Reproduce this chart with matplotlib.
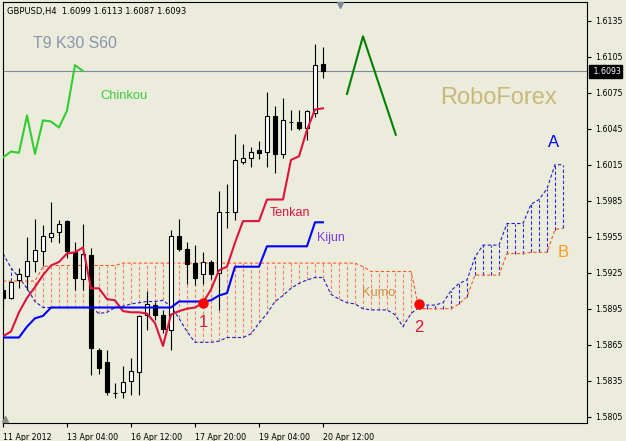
import matplotlib
matplotlib.use('Agg')
import matplotlib.pyplot as plt
import numpy as np

# ---------------- data ----------------
date_labels = ["11 Apr 2012", "13 Apr 04:00", "16 Apr 12:00", "17 Apr 20:00", "19 Apr 04:00", "20 Apr 12:00"]
date_bars = [0, 8, 16, 24, 32, 40]

opens = [1.5911, 1.5904, 1.5919, 1.5922, 1.5935, 1.5943, 1.5955, 1.5959, 1.5968, 1.5942,
         1.5920, 1.5940, 1.5861, 1.5851, 1.5825, 1.5826, 1.5835, 1.5842, 1.5890, 1.5898,
         1.5890, 1.5877, 1.5956, 1.5945, 1.5933, 1.5924, 1.5934, 1.5925, 1.5976, 1.5976,
         1.6017, 1.6021, 1.6027, 1.6026, 1.6056, 1.6024, 1.6051, 1.6051, 1.6046, 1.6058,
         1.6099]
highs = [1.5915, 1.5918, 1.5929, 1.5955, 1.5970, 1.5965, 1.5984, 1.5969, 1.5969, 1.5951,
         1.5966, 1.5946, 1.5862, 1.5861, 1.5833, 1.5847, 1.5854, 1.5890, 1.5910, 1.5901,
         1.5894, 1.5961, 1.5970, 1.5951, 1.5948, 1.5942, 1.5936, 1.5993, 1.5999, 1.6041,
         1.6032, 1.6030, 1.6035, 1.6076, 1.6064, 1.6071, 1.6061, 1.6061, 1.6061, 1.6116,
         1.6113]
lows = [1.5896, 1.5903, 1.5912, 1.5911, 1.5926, 1.5931, 1.5951, 1.5950, 1.5937, 1.5911,
        1.5911, 1.5840, 1.5841, 1.5823, 1.5821, 1.5821, 1.5823, 1.5823, 1.5877, 1.5886,
        1.5875, 1.5861, 1.5943, 1.5916, 1.5915, 1.5916, 1.5920, 1.5894, 1.5962, 1.5969,
        1.6016, 1.6013, 1.6020, 1.6013, 1.6008, 1.6021, 1.6044, 1.6044, 1.6036, 1.6055,
        1.6087]
closes = [1.5904, 1.5917, 1.5924, 1.5935, 1.5944, 1.5956, 1.5958, 1.5966, 1.5943, 1.5921,
          1.5941, 1.5862, 1.5846, 1.5826, 1.5825, 1.5834, 1.5843, 1.5889, 1.5899, 1.5890,
          1.5878, 1.5956, 1.5945, 1.5932, 1.5921, 1.5934, 1.5924, 1.5976, 1.5976, 1.6019,
          1.6021, 1.6026, 1.6025, 1.6056, 1.6024, 1.6052, 1.6051, 1.6046, 1.6060, 1.6098,
          1.6093]

tenkan = [1.5872, 1.5876, 1.5892, 1.5904, 1.5913, 1.5923, 1.5931, 1.5934, 1.5941, 1.5942,
          1.5946, 1.5912, 1.5912, 1.5903, 1.5902, 1.5893, 1.5892, 1.5892, 1.5891, 1.5883,
          1.5864, 1.5890, 1.5893, 1.5895, 1.5896, 1.5900, 1.5911, 1.5927, 1.5930, 1.5950,
          1.5968, 1.5968, 1.5968, 1.5986, 1.5986, 1.5986, 1.6019, 1.6022, 1.6044, 1.6061,
          1.6062]
kijun = [1.5871, 1.5871, 1.5871, 1.5880, 1.5887, 1.5889, 1.5896, 1.5896, 1.5896, 1.5896,
         1.5896, 1.5896, 1.5896, 1.5896, 1.5896, 1.5896, 1.5896, 1.5896, 1.5896, 1.5896,
         1.5896, 1.5896, 1.5901, 1.5901, 1.5901, 1.5901, 1.5902, 1.5906, 1.5908, 1.5930,
         1.5930, 1.5930, 1.5930, 1.5947, 1.5947, 1.5947, 1.5947, 1.5947, 1.5947, 1.5967,
         1.5967]
senkou_a = [1.5941, 1.5929, 1.5921, 1.5912, 1.5901, 1.5896, 1.5896, 1.5896, 1.5896, 1.5896,
            1.5896, 1.5896, 1.5891, 1.5892, 1.5896, 1.5897, 1.5899, 1.5900, 1.5901, 1.5901,
            1.5902, 1.5897, 1.5887, 1.5876, 1.5867, 1.5867, 1.5867, 1.5868, 1.5871, 1.5871,
            1.5871, 1.5874, 1.5883, 1.5891, 1.5901, 1.5906, 1.5912, 1.5916, 1.5919, 1.5921,
            1.5921, 1.5907, 1.5903, 1.5900, 1.5899, 1.5895, 1.5894, 1.5894, 1.5894, 1.5890,
            1.5880, 1.5891, 1.5896, 1.5898, 1.5898, 1.5900, 1.5910, 1.5916, 1.5919, 1.5938,
            1.5948, 1.5948, 1.5948, 1.5966, 1.5966, 1.5966, 1.5982, 1.5986, 1.5995, 1.6015,
            1.6015]
senkou_b = [1.5918, 1.5918, 1.5918, 1.5918, 1.5918, 1.5930, 1.5931, 1.5931, 1.5931, 1.5931,
            1.5931, 1.5931, 1.5931, 1.5931, 1.5931, 1.5933, 1.5933, 1.5933, 1.5933, 1.5933,
            1.5933, 1.5933, 1.5933, 1.5933, 1.5933, 1.5933, 1.5933, 1.5933, 1.5933, 1.5933,
            1.5933, 1.5933, 1.5933, 1.5933, 1.5933, 1.5933, 1.5933, 1.5933, 1.5933, 1.5933,
            1.5933, 1.5933, 1.5933, 1.5933, 1.5933, 1.5930, 1.5926, 1.5926, 1.5926, 1.5926,
            1.5926, 1.5926, 1.5895, 1.5895, 1.5895, 1.5895, 1.5895, 1.5899, 1.5905, 1.5923,
            1.5923, 1.5923, 1.5923, 1.5941, 1.5941, 1.5941, 1.5942, 1.5942, 1.5942, 1.5961,
            1.5962]
chinkou_shift = 30

price_ticks = [1.6135, 1.6105, 1.6075, 1.6045, 1.6015, 1.5985, 1.5955, 1.5925,
               1.5895, 1.5865, 1.5835, 1.5805]
last_price = 1.6093

signal_bars = [25, 52]
signal_prices = [1.5900, 1.5899]
signal_labels = ["1", "2"]
signal_label_offsets = [-14, -17]

forecast_bars = [43, 45, 49.1]
forecast_prices = [1.6074, 1.6122, 1.6040]

# ---------------- figure ----------------
W, H = 626, 441
BG = '#ECECDC'
fig = plt.figure(figsize=(W / 100, H / 100), dpi=100, facecolor=BG)
ax = fig.add_axes([2.5 / W, (H - 423.3) / H, (587 - 2.5) / W, (423.3 - 2) / H])
ax.set_facecolor(BG)
ax.set_xlim(-0.06, 73.0)
ax.set_ylim(1.57995, 1.61506)

tick_font = dict(family='DejaVu Sans', size=5.7)

# Kumo hatch
sa = np.array(senkou_a)
sb = np.array(senkou_b)
ki = np.arange(len(sa))
bull = sa >= sb
ax.vlines(ki[bull], sb[bull], sa[bull], colors='#2A2AD0', linestyles=[(0, (3, 2))], lw=0.8, zorder=1)
ax.vlines(ki[~bull], sa[~bull], sb[~bull], colors='#F7845E', linestyles=[(0, (3, 2))], lw=0.8, zorder=1)
ax.plot(ki, sa, color='#1C1CCC', lw=0.8, ls=(0, (3, 2)), zorder=2)
ax.plot(ki, sb, color='#FF5A1E', lw=0.8, ls=(0, (3, 2)), zorder=2)

# candles
idx = np.arange(len(opens))
o = np.array(opens)
c = np.array(closes)
up = c >= o
ax.vlines(idx, lows, highs, color='black', lw=0.8, zorder=3)
ax.bar(idx, np.abs(c - o), bottom=np.minimum(o, c), width=0.48,
       color=np.where(up, 'white', 'black'), edgecolor='black', linewidth=0.8, zorder=4)

# Tenkan / Kijun
ax.plot(idx, tenkan, color='#DC143C', lw=1.5, zorder=5)
ax.plot(idx, kijun, color='#0000FF', lw=1.5, zorder=5)

# Chinkou
ax.plot(idx - chinkou_shift, closes, color='#32CD32', lw=1.5, zorder=5)

# last price line
ax.axhline(last_price, color='#7A8C9E', lw=0.8, zorder=2)

# forecast zigzag
ax.plot(forecast_bars, forecast_prices, color='#008000', lw=1.5, zorder=5)

# signal dots
ax.plot(signal_bars, signal_prices, 'o', color='#FF0000', ms=6.5, zorder=6)

# axes styling
for s in ax.spines.values():
    s.set_color('black')
    s.set_linewidth(0.8)
ax.yaxis.tick_right()
ax.set_yticks(price_ticks)
ax.set_yticklabels([f"{p:.4f}" for p in price_ticks], **tick_font)
ax.set_xticks(date_bars)
ax.set_xticklabels(date_labels, **tick_font)
for lbl in ax.get_xticklabels():
    lbl.set_ha('left')
ax.tick_params(axis='both', direction='out', length=3, width=0.8, color='black', pad=3)
ax.tick_params(axis='x', pad=4)

# highlighted last price label
ax.text(1.006, last_price, f" {last_price:.4f}", transform=ax.get_yaxis_transform(),
        ha='left', va='center', color='white', fontsize=5.7, family='DejaVu Sans',
        bbox=dict(boxstyle='square,pad=0.25', fc='black', ec='black'), zorder=10, clip_on=False)

# markers (chart shift triangle + corner)
ax.plot([(340 - 2.5) / 584.5], [0.993], marker='v', ms=5, color='#7A8A9A',
        transform=ax.transAxes, clip_on=False, zorder=10)
ax.plot([0.004], [0.01], marker='^', ms=4, color='#8A8A8A',
        transform=ax.transAxes, clip_on=False, zorder=10)


def ftext(px, py, s, **kw):
    fig.text(px / W, 1 - py / H, s, va='baseline', **kw)


ftext(7, 14, "GBPUSD,H4  1.6099 1.6113 1.6087 1.6093", color='black', fontsize=6, family='DejaVu Sans')
ftext(33, 48, "T9 K30 S60", color='#8796A8', fontsize=11.4, family='Liberation Sans')
ftext(100, 99, "Chinkou", color='#3DCB3D', fontsize=9.3, family='Liberation Sans')
ftext(440, 104, "RoboForex", color='#C8B87A', fontsize=17, family='Liberation Sans')
ftext(270, 216, "Tenkan", color='#DC143C', fontsize=9, family='Liberation Sans')
ftext(317, 241, "Kijun", color='#7B3AEC', fontsize=9, family='Liberation Sans')
ftext(362, 296, "Kumo", color='#D98A3E', fontsize=9.2, family='Liberation Sans')
fig.text(554 / W, 1 - 147 / H, "A", ha='center', va='baseline', color='#0000FF', fontsize=12, family='Liberation Sans')
fig.text(563 / W, 1 - 257 / H, "B", ha='center', va='baseline', color='#FF9A1A', fontsize=12, family='Liberation Sans')
for b, p, t, off in zip(signal_bars, signal_prices, signal_labels, signal_label_offsets):
    ax.annotate(t, (b, p), xytext=(0, off), textcoords='offset points', ha='center', va='center',
                color='#DC143C', fontsize=12, family='Liberation Sans', zorder=7)

fig.savefig('out.png', dpi=100, facecolor=BG)
